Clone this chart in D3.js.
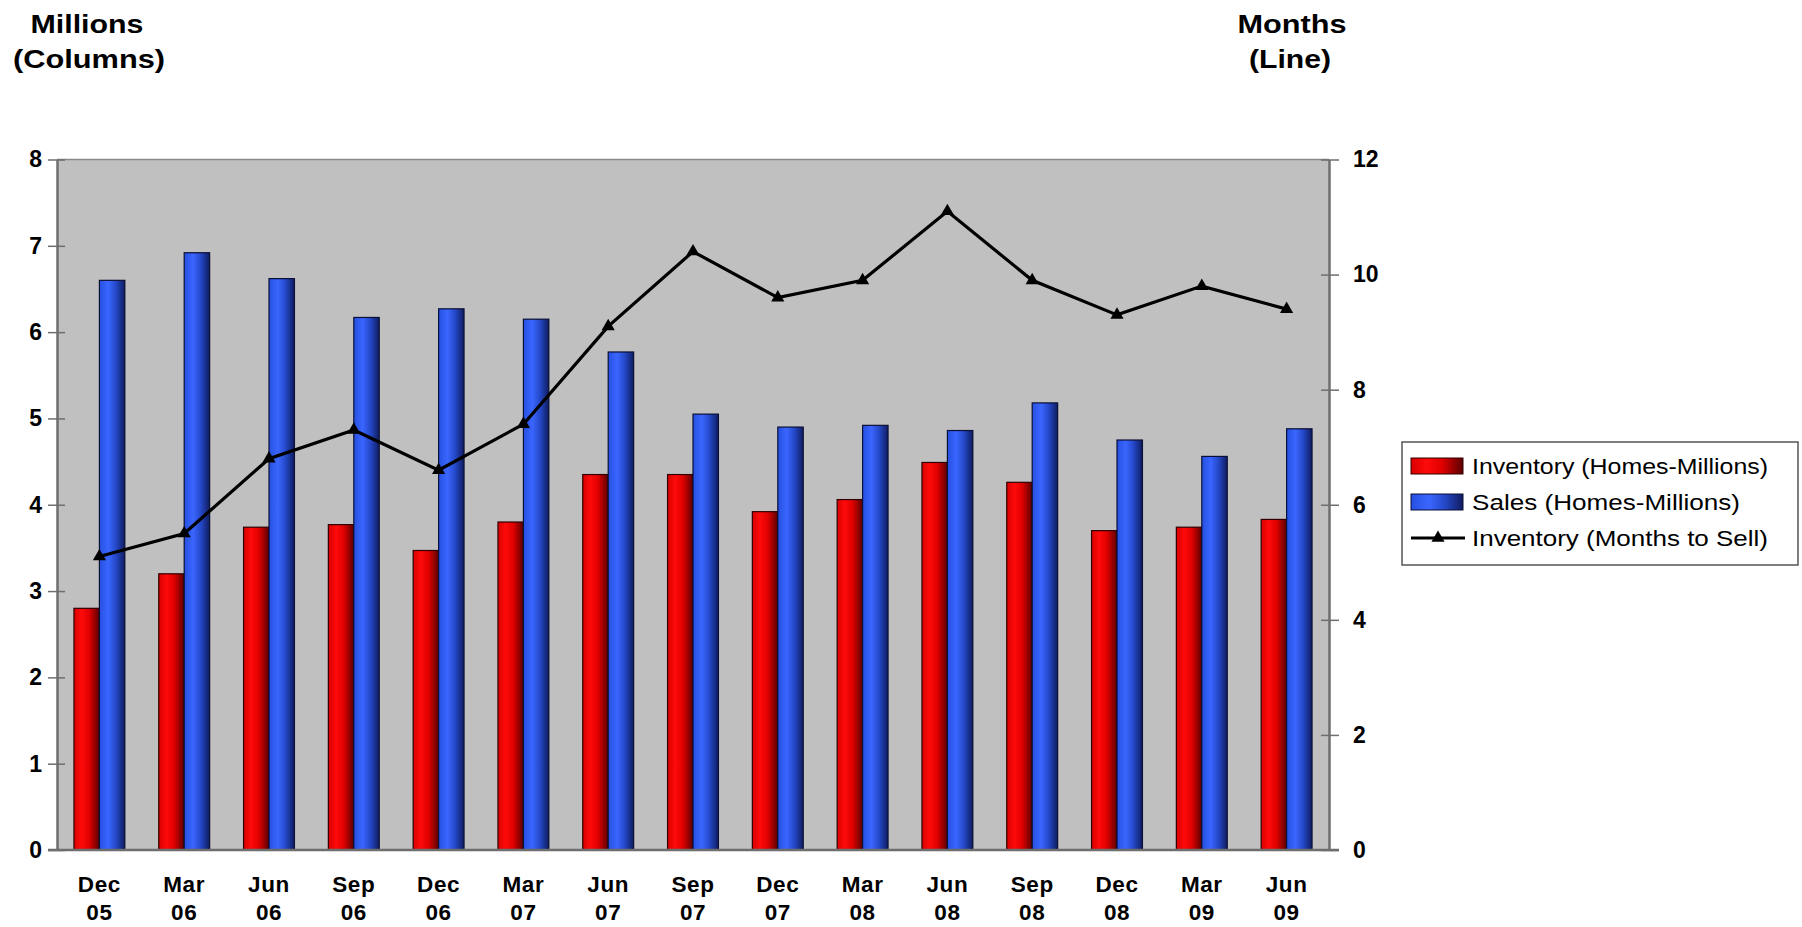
<!DOCTYPE html>
<html>
<head>
<meta charset="utf-8">
<script src="https://cdn.jsdelivr.net/npm/d3@7/dist/d3.min.js"></script>
<style>
  html, body { margin: 0; padding: 0; background: #ffffff; }
  svg { display: block; }
  text { font-family: "Liberation Sans", Arial, sans-serif; fill: #000; }
</style>
</head>
<body>
<svg id="chart" width="1802" height="927"></svg>
<script>
// Quarterly housing data
const categories = ["Dec 05", "Mar 06", "Jun 06", "Sep 06", "Dec 06", "Mar 07", "Jun 07", "Sep 07",
                    "Dec 07", "Mar 08", "Jun 08", "Sep 08", "Dec 08", "Mar 09", "Jun 09"];
const inventoryHomes = [2.8, 3.2, 3.74, 3.77, 3.47, 3.8, 4.35, 4.35, 3.92, 4.06, 4.49, 4.26, 3.7, 3.74, 3.83];
const salesHomes     = [6.6, 6.92, 6.62, 6.17, 6.27, 6.15, 5.77, 5.05, 4.9, 4.92, 4.86, 5.18, 4.75, 4.56, 4.88];
const monthsToSell   = [5.1, 5.5, 6.8, 7.3, 6.6, 7.4, 9.1, 10.4, 9.6, 9.9, 11.1, 9.9, 9.3, 9.8, 9.4];
const leftTicks  = [0, 1, 2, 3, 4, 5, 6, 7, 8];
const rightTicks = [0, 2, 4, 6, 8, 10, 12];
const seriesNames = ["Inventory (Homes-Millions)", "Sales (Homes-Millions)", "Inventory (Months to Sell)"];

const svg = d3.select("#chart");
const plot = { left: 57, right: 1329, top: 159.5, bottom: 850 };

const x = d3.scaleBand().domain(categories).range([plot.left, plot.right])
  .paddingInner(0.4).paddingOuter(0.2);
const xSub = d3.scaleBand().domain(["inv", "sales"]).range([0, x.bandwidth()]);
const yL = d3.scaleLinear().domain([0, 8]).range([plot.bottom, plot.top]);
const yR = d3.scaleLinear().domain([0, 12]).range([plot.bottom, plot.top]);

// gradients for the cylinder-like columns
const defs = svg.append("defs");
function grad(id, stops) {
  const g = defs.append("linearGradient").attr("id", id)
    .attr("x1", "0%").attr("x2", "100%").attr("y1", "0%").attr("y2", "0%");
  stops.forEach(s => g.append("stop").attr("offset", s[0]).attr("stop-color", s[1]));
}
grad("gRed",  [["0%", "#d80000"], ["30%", "#ff0a0a"], ["60%", "#e00000"], ["100%", "#5a0000"]]);
grad("gBlue", [["0%", "#2550e0"], ["35%", "#3a66ff"], ["65%", "#2448c8"], ["100%", "#101c60"]]);

// plot background
svg.append("rect").attr("x", plot.left).attr("y", plot.top)
  .attr("width", plot.right - plot.left).attr("height", plot.bottom - plot.top)
  .attr("fill", "#c0c0c0");
svg.append("line").attr("x1", plot.left).attr("x2", plot.right)
  .attr("y1", plot.top).attr("y2", plot.top)
  .attr("stroke", "#8a8a8a").attr("stroke-width", 1.5);

// columns
const groups = svg.append("g").selectAll("g").data(categories).join("g")
  .attr("transform", d => `translate(${x(d)},0)`);
groups.append("rect")
  .attr("x", xSub("inv")).attr("width", xSub.bandwidth())
  .attr("y", (d, i) => yL(inventoryHomes[i]))
  .attr("height", (d, i) => yL(0) - yL(inventoryHomes[i]))
  .attr("fill", "url(#gRed)").attr("stroke", "#300000").attr("stroke-width", 1.2);
groups.append("rect")
  .attr("x", xSub("sales")).attr("width", xSub.bandwidth())
  .attr("y", (d, i) => yL(salesHomes[i]))
  .attr("height", (d, i) => yL(0) - yL(salesHomes[i]))
  .attr("fill", "url(#gBlue)").attr("stroke", "#0a0f35").attr("stroke-width", 1.2);

// months-to-sell line
const cx = d => x(d) + x.bandwidth() / 2;
const line = d3.line().x((d, i) => cx(categories[i])).y(d => yR(d));
svg.append("path").datum(monthsToSell).attr("d", line)
  .attr("fill", "none").attr("stroke", "#000").attr("stroke-width", 3.2)
  .attr("stroke-linejoin", "miter");
const tri = d3.symbol().type(d3.symbolTriangle).size(75);
svg.append("g").selectAll("path").data(monthsToSell).join("path")
  .attr("d", tri)
  .attr("transform", (d, i) => `translate(${cx(categories[i])},${yR(d)})`)
  .attr("fill", "#000");

// axes
const axisColor = "#6e6e6e";
const gL = svg.append("g").attr("transform", `translate(${plot.left},0)`)
  .call(d3.axisLeft(yL).tickValues(leftTicks).tickSizeInner(9).tickSizeOuter(0).tickPadding(6));
gL.selectAll(".tick line").attr("x1", 8);
const gR = svg.append("g").attr("transform", `translate(${plot.right},0)`)
  .call(d3.axisRight(yR).tickValues(rightTicks).tickSizeInner(10).tickSizeOuter(0).tickPadding(14));
gR.selectAll(".tick line").attr("x1", -8);
[gL, gR].forEach(g => {
  g.select(".domain").attr("stroke", axisColor).attr("stroke-width", 2.5);
  g.selectAll(".tick line").attr("stroke", axisColor).attr("stroke-width", 1.5);
  g.selectAll(".tick text").style("font-size", "23px").style("font-weight", "bold")
    .style("font-family", "'Liberation Sans', Arial, sans-serif").attr("fill", "#111");
});
svg.append("line").attr("x1", plot.left - 9).attr("x2", plot.right + 10)
  .attr("y1", plot.bottom).attr("y2", plot.bottom)
  .attr("stroke", axisColor).attr("stroke-width", 2.5);

// category labels (two lines)
const xl = svg.append("g").selectAll("text").data(categories).join("text")
  .attr("text-anchor", "middle")
  .style("font-size", "22.5px").style("font-weight", "bold").style("letter-spacing", "0.6px")
  .attr("fill", "#111");
xl.append("tspan").attr("x", d => cx(d)).attr("y", 892).text(d => d.split(" ")[0]);
xl.append("tspan").attr("x", d => cx(d)).attr("y", 920).text(d => d.split(" ")[1]);

// axis titles
const titles = [
  { text: "Millions",  x: 87,   y: 33, w: 113 },
  { text: "(Columns)", x: 89,   y: 68, w: 152 },
  { text: "Months",    x: 1292, y: 33, w: 109 },
  { text: "(Line)",    x: 1290, y: 68, w: 82 }
];
svg.append("g").selectAll("text").data(titles).join("text")
  .attr("x", d => d.x).attr("y", d => d.y).attr("text-anchor", "middle")
  .attr("textLength", d => d.w).attr("lengthAdjust", "spacingAndGlyphs")
  .style("font-size", "26px").style("font-weight", "bold").attr("fill", "#111")
  .text(d => d.text);

// legend
const lg = svg.append("g");
lg.append("rect").attr("x", 1402).attr("y", 442).attr("width", 396).attr("height", 123)
  .attr("fill", "#fff").attr("stroke", "#555").attr("stroke-width", 1.5);
const rowY = [466, 502, 538];
lg.append("rect").attr("x", 1411).attr("y", rowY[0] - 8).attr("width", 52).attr("height", 16)
  .attr("fill", "url(#gRed)").attr("stroke", "#300000");
lg.append("rect").attr("x", 1411).attr("y", rowY[1] - 8).attr("width", 52).attr("height", 16)
  .attr("fill", "url(#gBlue)").attr("stroke", "#0a0f35");
lg.append("line").attr("x1", 1411).attr("x2", 1465).attr("y1", rowY[2]).attr("y2", rowY[2])
  .attr("stroke", "#000").attr("stroke-width", 3);
lg.append("path").attr("d", tri).attr("transform", `translate(1438,${rowY[2]})`).attr("fill", "#000");
const legendWidths = [296, 268, 296];
lg.selectAll("text.lt").data(seriesNames).join("text").attr("class", "lt")
  .attr("x", 1472).attr("y", (d, i) => rowY[i] + 8)
  .attr("textLength", (d, i) => legendWidths[i]).attr("lengthAdjust", "spacingAndGlyphs")
  .style("font-size", "22px").attr("fill", "#222").text(d => d);
</script>
</body>
</html>
